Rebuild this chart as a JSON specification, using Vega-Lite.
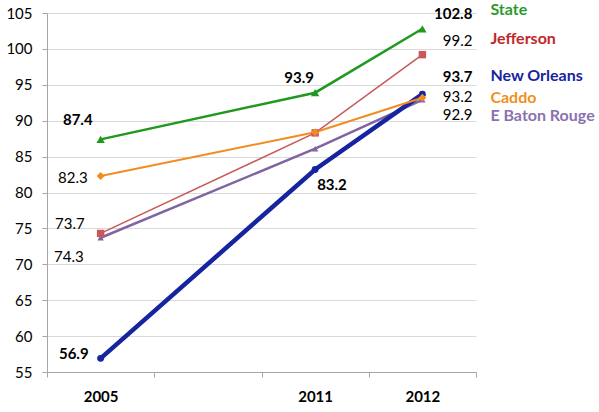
{
  "$schema": "https://vega.github.io/schema/vega-lite/v6.json",
  "width": 429,
  "height": 359,
  "autosize": "none",
  "padding": {"left": 47, "top": 13, "right": 123, "bottom": 40},
  "background": "white",
  "config": {"view": {"stroke": null}, "legend": {"disable": true}},
  "data": {
    "values": [
      {"series": "E Baton Rouge", "year": "2005", "value": 73.7},
      {"series": "E Baton Rouge", "year": "2011", "value": 86.1},
      {"series": "E Baton Rouge", "year": "2012", "value": 92.9},
      {"series": "New Orleans", "year": "2005", "value": 56.9},
      {"series": "New Orleans", "year": "2011", "value": 83.2},
      {"series": "New Orleans", "year": "2012", "value": 93.7},
      {"series": "Jefferson", "year": "2005", "value": 74.3},
      {"series": "Jefferson", "year": "2011", "value": 88.3},
      {"series": "Jefferson", "year": "2012", "value": 99.2},
      {"series": "Caddo", "year": "2005", "value": 82.3},
      {"series": "Caddo", "year": "2011", "value": 88.4},
      {"series": "Caddo", "year": "2012", "value": 93.2},
      {"series": "State", "year": "2005", "value": 87.4},
      {"series": "State", "year": "2011", "value": 93.9},
      {"series": "State", "year": "2012", "value": 102.8}
    ]
  },
  "encoding": {
    "x": {
      "field": "year",
      "type": "nominal",
      "bandPosition": 0.5,
      "scale": {"type": "band", "domain": ["2005", "gap", "2011", "2012"], "paddingInner": 0, "paddingOuter": 0},
      "axis": {
        "title": null,
        "tickBand": "extent",
        "labelExpr": "datum.value == 'gap' ? '' : datum.value",
        "labelAngle": 0,
        "labelFont": "Lato",
        "labelFontSize": 15,
        "labelFontWeight": "bold",
        "labelColor": "black",
        "labelPadding": 12,
        "domainColor": "#a6a6a6",
        "tickColor": "#a6a6a6",
        "tickSize": 5,
        "grid": false
      }
    },
    "y": {
      "field": "value",
      "type": "quantitative",
      "scale": {"domain": [55, 105], "nice": false, "zero": false},
      "axis": {
        "title": null,
        "values": [55, 60, 65, 70, 75, 80, 85, 90, 95, 100, 105],
        "labelFont": "Lato",
        "labelFontSize": 15,
        "labelColor": "black",
        "labelPadding": 10,
        "gridColor": "#d9d9d9",
        "domainColor": "#a6a6a6",
        "tickColor": "#a6a6a6",
        "tickSize": 5
      }
    },
    "color": {
      "field": "series",
      "type": "nominal",
      "scale": {
        "domain": ["E Baton Rouge", "New Orleans", "Jefferson", "Caddo", "State"],
        "range": ["#8064a2", "#1624a0", "#c9585a", "#f28c1e", "#1f9a1f"]
      }
    }
  },
  "layer": [
    {
      "transform": [{"filter": "datum.series == 'E Baton Rouge'"}],
      "mark": {"type": "line", "strokeWidth": 2.5}
    },
    {
      "transform": [{"filter": "datum.series == 'New Orleans'"}],
      "mark": {"type": "line", "strokeWidth": 4.5}
    },
    {
      "transform": [{"filter": "datum.series == 'Jefferson'"}],
      "mark": {"type": "line", "strokeWidth": 1.5}
    },
    {
      "transform": [{"filter": "datum.series == 'Caddo'"}],
      "mark": {"type": "line", "strokeWidth": 2}
    },
    {
      "transform": [{"filter": "datum.series == 'State'"}],
      "mark": {"type": "line", "strokeWidth": 2.5}
    },
    {
      "mark": {"type": "point", "filled": true, "opacity": 1},
      "encoding": {
        "shape": {
          "field": "series",
          "type": "nominal",
          "scale": {
            "domain": ["E Baton Rouge", "New Orleans", "Jefferson", "Caddo", "State"],
            "range": ["triangle-up", "circle", "square", "diamond", "triangle-up"]
          }
        },
        "size": {
          "field": "series",
          "type": "nominal",
          "scale": {
            "domain": ["E Baton Rouge", "New Orleans", "Jefferson", "Caddo", "State"],
            "range": [40, 70, 40, 35, 40]
          }
        }
      }
    },
    {
      "transform": [{"filter": "datum.series == 'State' && datum.year == '2005'"}],
      "mark": {"type": "text", "align": "right", "baseline": "middle", "dx": -8, "dy": -19, "font": "Lato", "fontSize": 15, "fontWeight": "bold", "color": "black"},
      "encoding": {"text": {"field": "value", "format": ".1f"}, "color": {"value": "black"}}
    },
    {
      "transform": [{"filter": "datum.series == 'Caddo' && datum.year == '2005'"}],
      "mark": {"type": "text", "align": "right", "baseline": "middle", "dx": -13, "dy": 2, "font": "Lato", "fontSize": 15},
      "encoding": {"text": {"field": "value", "format": ".1f"}, "color": {"value": "black"}}
    },
    {
      "transform": [{"filter": "datum.series == 'Jefferson' && datum.year == '2005'"}],
      "mark": {"type": "text", "align": "right", "baseline": "middle", "dx": -17, "dy": 24, "font": "Lato", "fontSize": 15},
      "encoding": {"text": {"field": "value", "format": ".1f"}, "color": {"value": "black"}}
    },
    {
      "transform": [{"filter": "datum.series == 'E Baton Rouge' && datum.year == '2005'"}],
      "mark": {"type": "text", "align": "right", "baseline": "middle", "dx": -16, "dy": -14, "font": "Lato", "fontSize": 15},
      "encoding": {"text": {"field": "value", "format": ".1f"}, "color": {"value": "black"}}
    },
    {
      "transform": [{"filter": "datum.series == 'New Orleans' && datum.year == '2005'"}],
      "mark": {"type": "text", "align": "right", "baseline": "middle", "dx": -12, "dy": -4, "font": "Lato", "fontSize": 15, "fontWeight": "bold"},
      "encoding": {"text": {"field": "value", "format": ".1f"}, "color": {"value": "black"}}
    },
    {
      "transform": [{"filter": "datum.series == 'State' && datum.year == '2011'"}],
      "mark": {"type": "text", "align": "center", "baseline": "middle", "dx": -16, "dy": -15, "font": "Lato", "fontSize": 15, "fontWeight": "bold"},
      "encoding": {"text": {"field": "value", "format": ".1f"}, "color": {"value": "black"}}
    },
    {
      "transform": [{"filter": "datum.series == 'New Orleans' && datum.year == '2011'"}],
      "mark": {"type": "text", "align": "left", "baseline": "middle", "dx": 2, "dy": 15, "font": "Lato", "fontSize": 15, "fontWeight": "bold"},
      "encoding": {"text": {"field": "value", "format": ".1f"}, "color": {"value": "black"}}
    },
    {
      "transform": [{"filter": "datum.series == 'State' && datum.year == '2012'"}],
      "mark": {"type": "text", "align": "right", "baseline": "middle", "dx": 50, "dy": -15, "font": "Lato", "fontSize": 15, "fontWeight": "bold"},
      "encoding": {"text": {"field": "value", "format": ".1f"}, "color": {"value": "black"}}
    },
    {
      "transform": [{"filter": "datum.series == 'Jefferson' && datum.year == '2012'"}],
      "mark": {"type": "text", "align": "right", "baseline": "middle", "dx": 50, "dy": -14, "font": "Lato", "fontSize": 15},
      "encoding": {"text": {"field": "value", "format": ".1f"}, "color": {"value": "black"}}
    },
    {
      "transform": [{"filter": "datum.series == 'New Orleans' && datum.year == '2012'"}],
      "mark": {"type": "text", "align": "right", "baseline": "middle", "dx": 50, "dy": -17, "font": "Lato", "fontSize": 15, "fontWeight": "bold"},
      "encoding": {"text": {"field": "value", "format": ".1f"}, "color": {"value": "black"}}
    },
    {
      "transform": [{"filter": "datum.series == 'Caddo' && datum.year == '2012'"}],
      "mark": {"type": "text", "align": "right", "baseline": "middle", "dx": 50, "dy": -1, "font": "Lato", "fontSize": 15},
      "encoding": {"text": {"field": "value", "format": ".1f"}, "color": {"value": "black"}}
    },
    {
      "transform": [{"filter": "datum.series == 'E Baton Rouge' && datum.year == '2012'"}],
      "mark": {"type": "text", "align": "right", "baseline": "middle", "dx": 50, "dy": 15, "font": "Lato", "fontSize": 15},
      "encoding": {"text": {"field": "value", "format": ".1f"}, "color": {"value": "black"}}
    },
    {
      "transform": [{"filter": "datum.series == 'State' && datum.year == '2012'"}],
      "mark": {"type": "text", "align": "left", "baseline": "middle", "dx": 68, "dy": -19, "font": "Lato", "fontSize": 16, "fontWeight": "bold"},
      "encoding": {"text": {"field": "series"}, "color": {"value": "#2a9a2a"}}
    },
    {
      "transform": [{"filter": "datum.series == 'Jefferson' && datum.year == '2012'"}],
      "mark": {"type": "text", "align": "left", "baseline": "middle", "dx": 68, "dy": -16, "font": "Lato", "fontSize": 16, "fontWeight": "bold"},
      "encoding": {"text": {"field": "series"}, "color": {"value": "#c0282a"}}
    },
    {
      "transform": [{"filter": "datum.series == 'New Orleans' && datum.year == '2012'"}],
      "mark": {"type": "text", "align": "left", "baseline": "middle", "dx": 68, "dy": -18, "font": "Lato", "fontSize": 16, "fontWeight": "bold"},
      "encoding": {"text": {"field": "series"}, "color": {"value": "#1624a0"}}
    },
    {
      "transform": [{"filter": "datum.series == 'Caddo' && datum.year == '2012'"}],
      "mark": {"type": "text", "align": "left", "baseline": "middle", "dx": 68, "dy": 0, "font": "Lato", "fontSize": 16, "fontWeight": "bold"},
      "encoding": {"text": {"field": "series"}, "color": {"value": "#f0901e"}}
    },
    {
      "transform": [{"filter": "datum.series == 'E Baton Rouge' && datum.year == '2012'"}],
      "mark": {"type": "text", "align": "left", "baseline": "middle", "dx": 68, "dy": 16, "font": "Lato", "fontSize": 16, "fontWeight": "bold"},
      "encoding": {"text": {"field": "series"}, "color": {"value": "#8a72b0"}}
    }
  ]
}
